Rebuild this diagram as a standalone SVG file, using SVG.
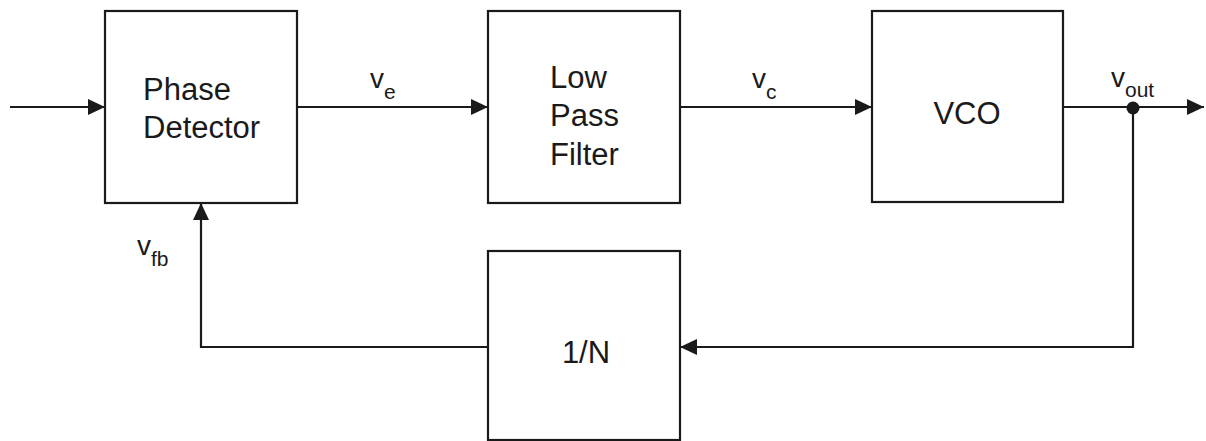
<svg xmlns="http://www.w3.org/2000/svg" width="1206" height="441" viewBox="0 0 1206 441">
<style>
.box{fill:#fff;stroke:#1a1a1a;stroke-width:2.2}
.wire{fill:none;stroke:#1a1a1a;stroke-width:2.2}
.t{font-family:"Liberation Sans",Arial,sans-serif;font-size:31px;fill:#1a1a1a}
.lbl{font-family:"Liberation Sans",Arial,sans-serif;font-size:28px;fill:#1a1a1a}
.sub{font-size:21px}
</style>
<defs>
<marker id="arr" viewBox="0 0 17 16" refX="17" refY="8" markerWidth="17" markerHeight="16" markerUnits="userSpaceOnUse" orient="auto">
<path d="M0,0 L17,8 L0,16 z" fill="#1a1a1a"/>
</marker>
</defs>
<rect width="1206" height="441" fill="#fff"/>
<g id="connectors">
<path class="wire" d="M10 107 H105" marker-end="url(#arr)"/>
<path class="wire" d="M297 107 H488" marker-end="url(#arr)"/>
<path class="wire" d="M680 107 H872" marker-end="url(#arr)"/>
<path class="wire" d="M1063 107 H1204" marker-end="url(#arr)"/>
<path class="wire" d="M1133 107 V347 H680" marker-end="url(#arr)"/>
<path class="wire" d="M488 347 H201 V203" marker-end="url(#arr)"/>
<circle cx="1133" cy="108" r="6.5" fill="#1a1a1a"/>
<text class="lbl" x="370" y="88">v<tspan class="sub" y="99">e</tspan></text>
<text class="lbl" x="752" y="88">v<tspan class="sub" y="99">c</tspan></text>
<text class="lbl" x="1111" y="87">v<tspan class="sub" y="97">out</tspan></text>
<text class="lbl" x="137" y="255">v<tspan class="sub" y="266">fb</tspan></text>
</g>
<g id="phase-detector">
<rect class="box" x="105" y="11" width="192" height="192"/>
<text class="t" x="143" y="100">Phase</text>
<text class="t" x="143" y="138">Detector</text>
</g>
<g id="low-pass-filter">
<rect class="box" x="488" y="11" width="192" height="192"/>
<text class="t" x="550" y="88">Low</text>
<text class="t" x="550" y="126">Pass</text>
<text class="t" x="550" y="165">Filter</text>
</g>
<g id="vco">
<rect class="box" x="872" y="11" width="191" height="191"/>
<text class="t" x="967" y="124" text-anchor="middle">VCO</text>
</g>
<g id="divider">
<rect class="box" x="488" y="251" width="192" height="189"/>
<text class="t" x="586" y="363" text-anchor="middle">1/N</text>
</g>
</svg>
